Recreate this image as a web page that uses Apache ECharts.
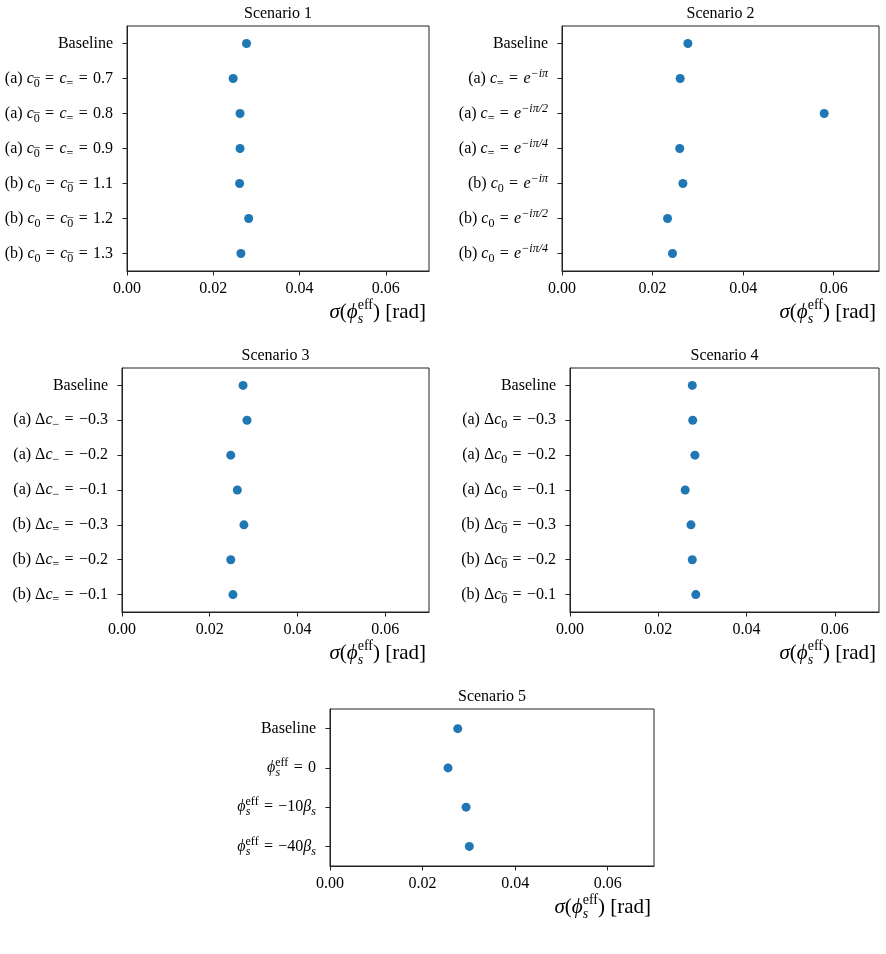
<!DOCTYPE html>
<html><head><meta charset="utf-8">
<script src="https://cdn.jsdelivr.net/npm/echarts@6/dist/echarts.min.js"></script>
<style>html,body{margin:0;padding:0;background:#fff}#c{width:886px;height:954px}</style>
</head><body><div id="c"></div><script>
const FONT = '"Liberation Serif", "DejaVu Serif", "Times New Roman", serif';

const titles = ['Scenario 1', 'Scenario 2', 'Scenario 3', 'Scenario 4', 'Scenario 5'];

// \u2004 = thick (1/3 em) space used around "=" as in math typesetting
const cats1 = [
  'Baseline',
  '(a) {i|c}{sb|0}{bar|\u00af}{n|\u2004=\u2004}{i|c}{sb|=}{n|\u2004=\u20040.7}',
  '(a) {i|c}{sb|0}{bar|\u00af}{n|\u2004=\u2004}{i|c}{sb|=}{n|\u2004=\u20040.8}',
  '(a) {i|c}{sb|0}{bar|\u00af}{n|\u2004=\u2004}{i|c}{sb|=}{n|\u2004=\u20040.9}',
  '(b) {i|c}{sb|0}{n|\u2004=\u2004}{i|c}{sb|0}{bar|\u00af}{n|\u2004=\u20041.1}',
  '(b) {i|c}{sb|0}{n|\u2004=\u2004}{i|c}{sb|0}{bar|\u00af}{n|\u2004=\u20041.2}',
  '(b) {i|c}{sb|0}{n|\u2004=\u2004}{i|c}{sb|0}{bar|\u00af}{n|\u2004=\u20041.3}'
];
const vals1 = [0.0277, 0.0246, 0.0262, 0.0262, 0.0261, 0.0282, 0.0264];

const cats2 = [
  'Baseline',
  '(a) {i|c}{sb|=}{n|\u2004=\u2004}{i|e}{spi|\u2212i\u03c0}',
  '(a) {i|c}{sb|=}{n|\u2004=\u2004}{i|e}{spi|\u2212i\u03c0/2}',
  '(a) {i|c}{sb|=}{n|\u2004=\u2004}{i|e}{spi|\u2212i\u03c0/4}',
  '(b) {i|c}{sb|0}{n|\u2004=\u2004}{i|e}{spi|\u2212i\u03c0}',
  '(b) {i|c}{sb|0}{n|\u2004=\u2004}{i|e}{spi|\u2212i\u03c0/2}',
  '(b) {i|c}{sb|0}{n|\u2004=\u2004}{i|e}{spi|\u2212i\u03c0/4}'
];
const vals2 = [0.0278, 0.0261, 0.0579, 0.0260, 0.0267, 0.0233, 0.0244];

const cats3 = [
  'Baseline',
  '(a) \u0394{i|c}{sb|\u2212}{n|\u2004=\u2004\u22120.3}',
  '(a) \u0394{i|c}{sb|\u2212}{n|\u2004=\u2004\u22120.2}',
  '(a) \u0394{i|c}{sb|\u2212}{n|\u2004=\u2004\u22120.1}',
  '(b) \u0394{i|c}{sb|=}{n|\u2004=\u2004\u22120.3}',
  '(b) \u0394{i|c}{sb|=}{n|\u2004=\u2004\u22120.2}',
  '(b) \u0394{i|c}{sb|=}{n|\u2004=\u2004\u22120.1}'
];
const vals3 = [0.0276, 0.0285, 0.0248, 0.0263, 0.0278, 0.0248, 0.0253];

const cats4 = [
  'Baseline',
  '(a) \u0394{i|c}{sb|0}{n|\u2004=\u2004\u22120.3}',
  '(a) \u0394{i|c}{sb|0}{n|\u2004=\u2004\u22120.2}',
  '(a) \u0394{i|c}{sb|0}{n|\u2004=\u2004\u22120.1}',
  '(b) \u0394{i|c}{sb|0}{bar|\u00af}{n|\u2004=\u2004\u22120.3}',
  '(b) \u0394{i|c}{sb|0}{bar|\u00af}{n|\u2004=\u2004\u22120.2}',
  '(b) \u0394{i|c}{sb|0}{bar|\u00af}{n|\u2004=\u2004\u22120.1}'
];
const vals4 = [0.0277, 0.0278, 0.0283, 0.0261, 0.0274, 0.0277, 0.0285];

const cats5 = [
  'Baseline',
  '{i|\u03d5}{sbz|s}{sp|eff}{n|\u2004=\u20040}',
  '{i|\u03d5}{sbz|s}{sp|eff}{n|\u2004=\u2004\u221210}{i|\u03b2}{sbi|s}',
  '{i|\u03d5}{sbz|s}{sp|eff}{n|\u2004=\u2004\u221240}{i|\u03b2}{sbi|s}'
];
const vals5 = [0.0276, 0.0255, 0.0294, 0.0301];

const xTicks = [0, 0.02, 0.04, 0.06];
const xName = '{ni|\u03c3}{nn|(}{ni|\u03d5}{nsbz|s}{nsp|eff}{nn|) [rad]}';

const catsAll = [cats1, cats2, cats3, cats4, cats5];
const valsAll = [vals1, vals2, vals3, vals4, vals5];

const grids = [
  {left: 127, top: 26, width: 302, height: 245},
  {left: 562, top: 26, width: 317, height: 245},
  {left: 122, top: 368, width: 307, height: 244},
  {left: 570, top: 368, width: 309, height: 244},
  {left: 330, top: 709, width: 324, height: 157}
];

const base = {fontFamily: FONT, color: '#000', align: 'right'};
const rich = {
  n: {...base, fontSize: 16, lineHeight: 22},
  i: {...base, fontSize: 16, lineHeight: 22, fontStyle: 'italic'},
  sb: {...base, fontSize: 12, lineHeight: 8, verticalAlign: 'bottom'},
  sbi: {...base, fontSize: 12, lineHeight: 8, verticalAlign: 'bottom', fontStyle: 'italic'},
  // (near) zero-width tokens, used to stack a subscript under a superscript / a bar over a digit
  sbz: {...base, fontSize: 12, lineHeight: 8, verticalAlign: 'bottom', fontStyle: 'italic', width: 5.01, padding: [0, -5, 0, 0]},
  bar: {...base, fontSize: 12, lineHeight: 10, verticalAlign: 'bottom', width: 0.01},
  sp: {...base, fontSize: 12, lineHeight: 8, verticalAlign: 'top'},
  spi: {...base, fontSize: 12, lineHeight: 8, verticalAlign: 'top', fontStyle: 'italic'},
  nn: {...base, fontSize: 21, lineHeight: 28},
  ni: {...base, fontSize: 21, lineHeight: 28, fontStyle: 'italic'},
  nsbz: {...base, fontSize: 14, lineHeight: 10, verticalAlign: 'bottom', fontStyle: 'italic', width: 5.51, padding: [0, -5.5, 0, 0]},
  nsp: {...base, fontSize: 14, lineHeight: 10, verticalAlign: 'top'}
};

const AX = '#222';
const option = {
  animation: false,
  backgroundColor: '#fff',
  title: grids.map((g, k) => ({
    text: titles[k],
    left: g.left + g.width / 2,
    top: g.top - 20,
    textAlign: 'center',
    padding: 0,
    textStyle: {fontFamily: FONT, fontSize: 16, fontWeight: 'normal', color: '#000'}
  })),
  grid: grids.map(g => ({...g, show: true, borderColor: AX, borderWidth: 1, backgroundColor: 'transparent', containLabel: false})),
  xAxis: grids.map((g, k) => ({
    type: 'value', gridIndex: k, min: 0, max: 0.07, interval: 0.02,
    splitLine: {show: false},
    axisLine: {show: true, lineStyle: {color: AX, width: 1}},
    axisTick: {show: true, length: 4.5, lineStyle: {color: AX}, customValues: xTicks},
    axisLabel: {fontFamily: FONT, fontSize: 16, color: '#000', margin: 10,
      customValues: xTicks,
      formatter: v => v.toFixed(2)},
    name: xName,
    nameLocation: 'end',
    nameGap: 0,
    nameTextStyle: {align: 'right', verticalAlign: 'top', padding: [27, 3, 0, 0], rich: rich, fontFamily: FONT, fontSize: 21, color: '#000'}
  })),
  yAxis: grids.map((g, k) => ({
    type: 'category', gridIndex: k, inverse: true,
    data: catsAll[k],
    axisLine: {show: true, lineStyle: {color: AX, width: 1}},
    axisTick: {show: true, alignWithLabel: true, length: 4.5, lineStyle: {color: AX}},
    splitLine: {show: false},
    axisLabel: {fontFamily: FONT, fontSize: 16, color: '#000', margin: 14, lineHeight: 22, align: 'right', rich: rich, interval: 0}
  })),
  series: valsAll.map((vals, k) => ({
    type: 'scatter', xAxisIndex: k, yAxisIndex: k,
    symbolSize: 9,
    itemStyle: {color: '#1f77b4', opacity: 1},
    data: vals.map((v, i) => [v, i])
  }))
};
const chart = echarts.init(document.getElementById('c'), null, {renderer: 'canvas'});
chart.setOption(option);
</script></body></html>
